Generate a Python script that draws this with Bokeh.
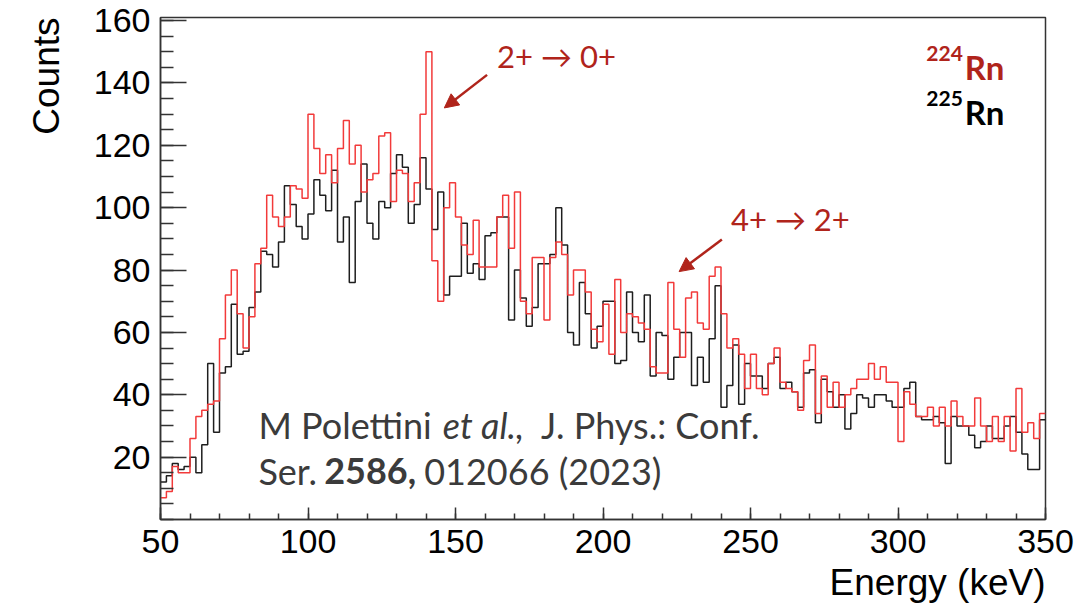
import numpy as np
from bokeh.plotting import figure
from bokeh.models import Range1d, FixedTicker, Label, Arrow, NormalHead, Title
from bokeh.embed import file_html
from bokeh.resources import INLINE

# ---------------- data ----------------
bin_width = 2          # keV
e_min, e_max = 50, 350

rn224_counts = [
    7, 9, 17, 15, 15, 26, 33, 35, 37, 38,
    58, 72, 80, 66, 55, 65, 82, 87, 104, 97,
    94, 97, 107, 106, 103, 130, 119, 111, 117, 108,
    119, 128, 114, 120, 105, 109, 111, 123, 124, 102,
    112, 111, 102, 108, 130, 150, 83, 70, 100, 108,
    97, 88, 85, 96, 81, 81, 81, 97, 104, 87,
    105, 70, 66, 84, 84, 64, 84, 89, 85, 72,
    80, 80, 73, 61, 57, 69, 53, 77, 60, 66,
    65, 63, 61, 49, 47, 47, 76, 61, 52, 71,
    73, 63, 61, 78, 81, 66, 55, 58, 53, 42,
    53, 42, 40, 50, 55, 44, 42, 41, 35, 51,
    56, 34, 46, 36, 44, 36, 40, 42, 45, 45,
    50, 45, 49, 44, 44, 25, 41, 37, 33, 33,
    36, 30, 36, 30, 38, 33, 30, 30, 39, 30,
    25, 33, 25, 33, 22, 42, 28, 31, 26, 34,
]

rn225_counts = [
    12, 14, 18, 16, 17, 20, 15, 24, 50, 28,
    47, 49, 69, 53, 54, 68, 73, 86, 85, 81,
    89, 107, 101, 94, 90, 98, 109, 104, 99, 112,
    89, 97, 76, 102, 114, 95, 90, 102, 100, 111,
    117, 113, 95, 101, 116, 106, 93, 105, 72, 78,
    78, 95, 79, 82, 77, 91, 92, 97, 97, 64,
    80, 71, 62, 68, 82, 82, 85, 100, 88, 60,
    56, 76, 66, 55, 62, 70, 70, 50, 51, 73,
    60, 57, 72, 46, 60, 59, 45, 52, 60, 60,
    43, 52, 44, 58, 75, 36, 43, 56, 37, 50,
    46, 46, 42, 50, 52, 42, 44, 41, 36, 47,
    48, 31, 45, 41, 36, 40, 29, 34, 40, 39,
    36, 40, 40, 38, 36, 36, 42, 44, 33, 32,
    32, 33, 31, 18, 33, 30, 30, 27, 23, 25,
    30, 26, 26, 30, 33, 28, 21, 16, 16, 32,
]

x_ticks = [50, 100, 150, 200, 250, 300, 350]
y_ticks = [20, 40, 60, 80, 100, 120, 140, 160]

# ---------------- styles ----------------
RED_LINE = "#f23a3a"
BLACK_LINE = "#1e1e1e"
DARK_RED = "#b0241b"
FRAME = "#333333"
CITE = "#3b3b3b"
AXFONT = "Liberation Sans"
TXFONT = "Lato"
LIFT = 4.0   # baseline correction for labels (data units)

edges = np.arange(e_min, e_max + bin_width, bin_width)

p = figure(width=1091, height=612, output_backend="svg", toolbar_location=None,
           x_range=Range1d(e_min, e_max), y_range=Range1d(0, 161),
           min_border_left=159, min_border_right=46, min_border_top=17,
           min_border_bottom=93)
p.title.visible = False
p.grid.visible = False
p.background_fill_color = "white"
p.border_fill_color = "white"
p.outline_line_color = FRAME
p.outline_line_width = 1.5

p.step(edges, np.append(rn225_counts, rn225_counts[-1]), mode="after",
       line_color=BLACK_LINE, line_width=1.5)
p.step(edges, np.append(rn224_counts, rn224_counts[-1]), mode="after",
       line_color=RED_LINE, line_width=1.5)

# axes
p.xaxis.ticker = FixedTicker(ticks=x_ticks, minor_ticks=list(range(e_min, e_max + 1, 10)))
p.yaxis.ticker = FixedTicker(ticks=y_ticks, minor_ticks=list(range(0, 161, 5)))
for ax in (p.xaxis[0], p.yaxis[0]):
    ax.axis_line_color = FRAME
    ax.axis_line_width = 1.5
    ax.major_tick_line_color = FRAME
    ax.minor_tick_line_color = FRAME
    ax.major_tick_line_width = 1.5
    ax.minor_tick_line_width = 1.5
    ax.major_tick_out = 0
    ax.minor_tick_out = 0
    ax.major_label_text_font = AXFONT
    ax.major_label_text_font_size = "34px"
    ax.major_label_text_color = "black"
    ax.major_label_standoff = 10
p.xaxis.major_tick_in = 12
p.xaxis.minor_tick_in = 6
p.yaxis.major_tick_in = 26
p.yaxis.minor_tick_in = 13

# axis titles (ROOT style, at the axis ends)
p.add_layout(Title(text="Energy (keV)", align="right", text_font=AXFONT,
                   text_font_size="37px", text_font_style="normal",
                   text_color="black", standoff=8), "below")
p.add_layout(Title(text="Counts", align="right", text_font=AXFONT,
                   text_font_size="37px", text_font_style="normal",
                   text_color="black", standoff=47), "left")

# transition annotations
def note(x, y, txt):
    p.add_layout(Label(x=x, y=y + LIFT, text=txt, text_font=TXFONT, text_font_size="31px",
                       text_color=DARK_RED, text_baseline="alphabetic"))

note(164.1, 144.8, "2+ \u2192 0+")
note(243.4, 92.3, "4+ \u2192 2+")

for xs, ys, xe, ye in [(160.7, 142.6, 146.2, 132.0), (240.3, 89.8, 225.8, 79.5)]:
    p.add_layout(Arrow(x_start=xs, y_start=ys, x_end=xe, y_end=ye,
                       line_color=DARK_RED, line_width=2.5,
                       end=NormalHead(size=14, fill_color=DARK_RED, line_color=DARK_RED)))

# legend-like labels
def iso(xm, xr, yb, mass, color):
    p.add_layout(Label(x=xm, y=yb + 4.4 + LIFT, text=mass, text_font=TXFONT,
                       text_font_size="21px", text_font_style="bold", text_color=color,
                       text_baseline="alphabetic"))
    p.add_layout(Label(x=xr, y=yb + LIFT, text="Rn", text_font=TXFONT, text_font_size="33px",
                       text_font_style="bold", text_color=color, text_baseline="alphabetic"))

iso(309.6, 322.6, 141.0, "224", DARK_RED)
iso(309.6, 322.6, 126.6, "225", "black")

# citation
def cite(x, y, txt, style="normal"):
    p.add_layout(Label(x=x, y=y + LIFT, text=txt, text_font=TXFONT, text_font_size="36px",
                       text_font_style=style, text_color=CITE, text_baseline="alphabetic"))

cite(83.2, 26.4, "M Polettini")
cite(145.7, 26.4, "et al.,", "italic")
cite(179.0, 26.4, "J. Phys.: Conf.")
cite(83.2, 11.7, "Ser.")
cite(105.5, 11.7, "2586,", "bold")
cite(139.4, 11.7, "012066 (2023)")

open("out.html", "w").write(file_html(p, INLINE))
